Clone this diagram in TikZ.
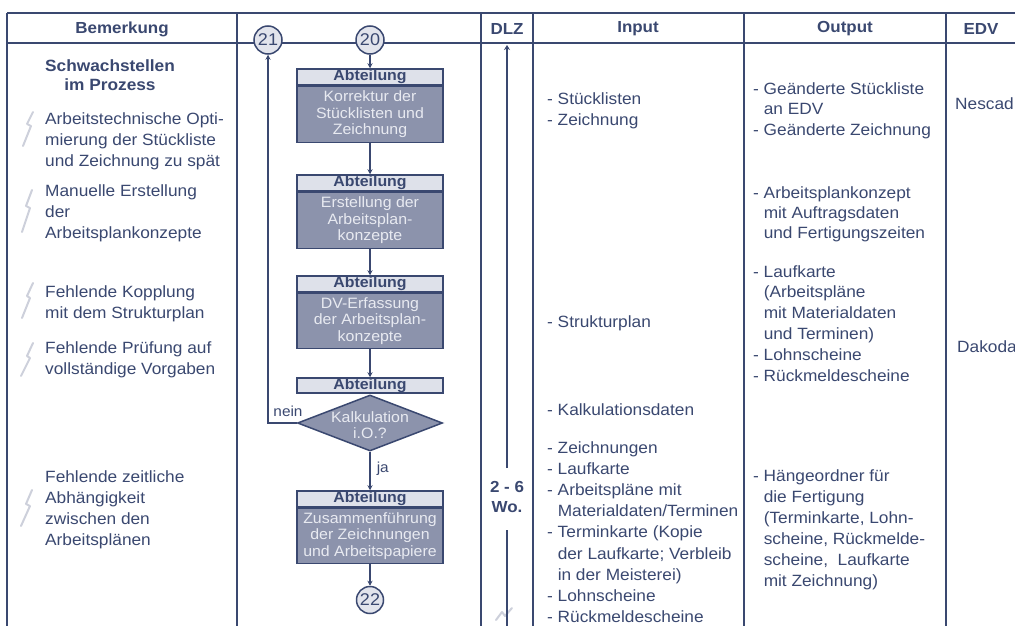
\documentclass[tikz,border=0pt]{standalone}
\usepackage{fontspec}
\setmainfont{Liberation Sans}[FakeStretch=1.06]
\usetikzlibrary{shapes.geometric,arrows.meta}
\definecolor{ink}{RGB}{58,72,112}
\definecolor{boxfill}{RGB}{140,147,172}
\definecolor{headfill}{RGB}{222,225,234}
\definecolor{boxtext}{RGB}{232,234,241}
\definecolor{circfill}{RGB}{226,228,236}
\definecolor{faint}{RGB}{205,208,219}
\begin{document}
\begin{tikzpicture}[x=1pt,y=-1pt,
  rule/.style={draw=ink,line width=1.8pt},
  colhead/.style={text=ink,font=\bfseries\fontsize{16}{19}\selectfont,inner sep=0pt},
  note/.style={text=ink,font=\fontsize{16.3}{21}\selectfont,align=left,anchor=base west,inner sep=0pt},
  head/.style={draw=ink,line width=1.5pt,fill=headfill,minimum width=146pt,minimum height=16pt,inner sep=0pt,text=ink,font=\bfseries\fontsize{15}{16}\selectfont},
  body/.style={draw=ink,line width=1.5pt,fill=boxfill,minimum width=146pt,inner sep=0pt,text=boxtext,align=center,font=\fontsize{15}{16.5}\selectfont,anchor=north},
  decision/.style={diamond,draw=ink,line width=1.5pt,fill=boxfill,minimum width=145pt,minimum height=56pt,inner sep=0pt},
  dtext/.style={text=boxtext,align=center,font=\fontsize{15}{16.5}\selectfont,inner sep=0pt},
  conn/.style={circle,draw=ink,line width=1.5pt,fill=circfill,minimum size=28pt,inner sep=0pt,text=ink,font=\fontsize{17}{18}\selectfont},
  flow/.style={draw=ink,line width=1.5pt,-{Stealth[length=5pt,width=5pt]}},
  lbl/.style={text=ink,font=\fontsize{14.5}{16}\selectfont,inner sep=0pt},
  scribble/.style={draw=faint,line width=2pt,line cap=round,line join=round}
]
\useasboundingbox[fill=white] (0,0) rectangle (1015,626);

% table frame
\draw[rule] (7,13) -- (1015,13);
\draw[rule] (7,43) -- (1015,43);
\foreach \x in {7,237,481,533,744,946} \draw[rule] (\x,13) -- (\x,626);

% column headings
\node[colhead] (hBem) at (122,29) {Bemerkung};
\node[colhead] (hDLZ) at (507,29) {DLZ};
\node[colhead] (hIn) at (638,29) {Input};
\node[colhead] (hOut) at (845,29) {Output};
\node[colhead] (hEDV) at (981,29) {EDV};

% Bemerkung column (anchor = baseline of last line)
\node[note,align=center,anchor=base,font=\bfseries\fontsize{16.3}{19}\selectfont] (title) at (110,91) {Schwachstellen\\im Prozess};
\node[note] (w1) at (45,166) {Arbeitstechnische Opti-\\mierung der Stückliste\\und Zeichnung zu spät};
\node[note] (w2) at (45,238) {Manuelle Erstellung\\der\\Arbeitsplankonzepte};
\node[note] (w3) at (45,318) {Fehlende Kopplung\\mit dem Strukturplan};
\node[note] (w4) at (45,374) {Fehlende Prüfung auf\\vollständige Vorgaben};
\node[note] (w5) at (45,545) {Fehlende zeitliche\\Abhängigkeit\\zwischen den\\Arbeitsplänen};

% faint marks
\draw[scribble] (33,112) -- (27,124) -- (31,126) -- (23,146);
\draw[scribble] (32,190) -- (26,206) -- (30,208) -- (22,232);
\draw[scribble] (33,283) -- (27,296) -- (30,298) -- (22,318);
\draw[scribble] (33,343) -- (27,356) -- (30,358) -- (21,376);
\draw[scribble] (32,490) -- (26,504) -- (30,506) -- (21,526);
\draw[scribble] (496,620) -- (502,612) -- (505,616) -- (512,608);

% flow chart
\node[conn] (c21) at (268,40) {21};
\node[conn] (c20) at (370,40) {20};

\node[head] (h1) at (370,77) {Abteilung};
\node[body,minimum height=56pt] (b1) at (h1.south) {Korrektur der\\Stücklisten und\\Zeichnung};
\node[head] (h2) at (370,183) {Abteilung};
\node[body,minimum height=56pt] (b2) at (h2.south) {Erstellung der\\Arbeitsplan-\\konzepte};
\node[head] (h3) at (370,284) {Abteilung};
\node[body,minimum height=55pt] (b3) at (h3.south) {DV-Erfassung\\der Arbeitsplan-\\konzepte};
\node[head,minimum height=15pt] (h4) at (370,385.5) {Abteilung};
\node[decision] (d) at (370,423) {};
\node[dtext] (dt) at (370,425) {Kalkulation\\i.O.?};
\node[head] (h5) at (370,499) {Abteilung};
\node[body,minimum height=55pt] (b5) at (h5.south) {Zusammenführung\\der Zeichnungen\\und Arbeitspapiere};
\node[conn,minimum size=27pt] (c22) at (370,600) {22};

\draw[flow] (c20) -- (h1.north);
\draw[flow] (b1.south) -- (h2.north);
\draw[flow] (b2.south) -- (h3.north);
\draw[flow] (b3.south) -- (h4.north);
\draw[flow] (d.south) -- node[lbl,right=6pt,pos=0.45] (ja) {ja} (h5.north);
\draw[flow] (b5.south) -- (c22);
\draw[flow] (d.west) -| (c21.south);
\node[lbl] (nein) at (288,411) {nein};

% DLZ
\coordinate (dlzTop) at (507,45);
\coordinate (dlzA) at (507,468);
\coordinate (dlzB) at (507,530);
\coordinate (dlzBot) at (507,626);
\node[text=ink,font=\bfseries\fontsize{16}{20}\selectfont,align=center,inner sep=0pt] (dlz) at (507,497) {2 - 6\\Wo.};
\draw[draw=ink,line width=2pt,-{Stealth[length=5pt,width=6pt]}] (dlzA) -- (dlzTop);
\draw[draw=ink,line width=2pt] (dlzB) -- (dlzBot);

% Input column
\node[note] (i1) at (547,125) {- Stücklisten\\- Zeichnung};
\node[note] (i2) at (547,327) {- Strukturplan};
\node[note] (i3) at (547,415) {- Kalkulationsdaten};
\node[note,font=\fontsize{16.3}{21.2}\selectfont] (i4) at (547,622.6) {- Zeichnungen\\- Laufkarte\\- Arbeitspläne mit\\\phantom{- }Materialdaten/Terminen\\- Terminkarte (Kopie\\\phantom{- }der Laufkarte; Verbleib\\\phantom{- }in der Meisterei)\\- Lohnscheine\\- Rückmeldescheine};

% Output column
\node[note,font=\fontsize{16.3}{20}\selectfont] (o1) at (753,135) {- Geänderte Stückliste\\\phantom{- }an EDV\\- Geänderte Zeichnung};
\node[note,font=\fontsize{16.3}{20}\selectfont] (o2) at (753,238) {- Arbeitsplankonzept\\\phantom{- }mit Auftragsdaten\\\phantom{- }und Fertigungszeiten};
\node[note,font=\fontsize{16.3}{20.8}\selectfont] (o3) at (753,381) {- Laufkarte\\\phantom{- }(Arbeitspläne\\\phantom{- }mit Materialdaten\\\phantom{- }und Terminen)\\- Lohnscheine\\- Rückmeldescheine};
\node[note,font=\fontsize{16.3}{21}\selectfont] (o4) at (753,586) {- Hängeordner für\\\phantom{- }die Fertigung\\\phantom{- }(Terminkarte, Lohn-\\\phantom{- }scheine, Rückmelde-\\\phantom{- }scheine,\ \ Laufkarte\\\phantom{- }mit Zeichnung)};

% EDV column
\node[note] (e1) at (955,109) {Nescad};
\node[note] (e2) at (957,352) {Dakoda};
\end{tikzpicture}
\end{document}
